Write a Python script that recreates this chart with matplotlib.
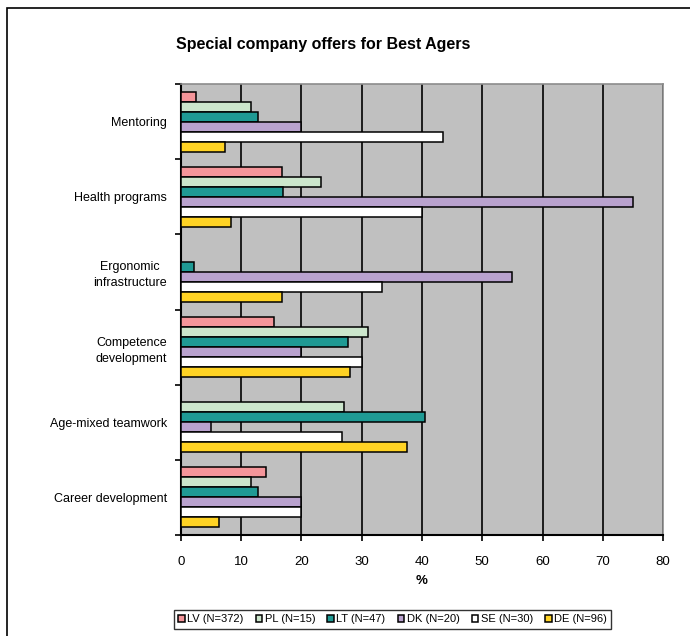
import matplotlib
matplotlib.use("Agg")
import matplotlib.pyplot as plt
from matplotlib.patches import Rectangle

plt.rcParams['font.family'] = ['Liberation Sans', 'DejaVu Sans']

# Données
categories = ['Mentoring', 'Health programs', 'Ergonomic\ninfrastructure',
              'Competence\ndevelopment', 'Age-mixed teamwork', 'Career development']
series = ['LV (N=372)', 'PL (N=15)', 'LT (N=47)', 'DK (N=20)', 'SE (N=30)', 'DE (N=96)']
LV = [2.5, 16.8, 0, 15.4, 0, 14.1]
PL = [11.7, 23.3, 0, 31.0, 27.0, 11.7]
LT = [12.8, 17.0, 2.1, 27.7, 40.5, 12.8]
DK = [20.0, 75.0, 55.0, 20.0, 5.0, 20.0]
SE = [43.5, 40.0, 33.3, 30.0, 26.7, 20.0]
DE = [7.3, 8.3, 16.7, 28.1, 37.5, 6.3]
couleurs = ['#F4959A', '#CCE6CC', '#1F9A94', '#B9A2CE', '#FFFFFF', '#FFD324']
xticks = [0, 10, 20, 30, 40, 50, 60, 70, 80]

valeurs = [LV, PL, LT, DK, SE, DE]

fig = plt.figure(figsize=(6.9, 6.36), dpi=100)
ax = fig.add_axes([0.2623, 0.1588, 0.6986, 0.7091])
ax.set_facecolor('#C0C0C0')

# Cadre extérieur (dépasse à droite et en bas)
fig.patches.append(Rectangle((7 / 690, -0.05), 1.0, (636 - 8) / 636 + 0.05,
                             transform=fig.transFigure, fill=False,
                             edgecolor='black', linewidth=1.2))

h = 0.8 / len(series)
for j, (nom, vals, c) in enumerate(zip(series, valeurs, couleurs)):
    pos = [i - 0.4 + h * (j + 0.5) for i in range(len(categories))]
    ax.barh(pos, vals, height=h, color=c, edgecolor='black', linewidth=1.1,
            label=nom, zorder=3)

ax.set_xlim(0, 80)
ax.set_ylim(len(categories) - 0.5, -0.5)
ax.set_xticks(xticks)
ax.set_xticklabels([str(t) for t in xticks], fontsize=9.5)
ax.xaxis.grid(True, color='black', linewidth=1.2, zorder=1)
ax.set_axisbelow(True)

# Ticks de l'axe des catégories aux limites des groupes
ax.set_yticks([i + 0.5 for i in range(-1, len(categories))])
ax.set_yticklabels([])
ax.set_yticks(range(len(categories)), minor=True)
ax.set_yticklabels(categories, minor=True, fontsize=9, ha='right')
ax.tick_params(axis='y', which='minor', length=0, pad=10)
ax.tick_params(axis='y', which='major', length=4, width=1.2, direction='out')
ax.tick_params(axis='x', length=4, width=1.2, direction='out', pad=11)
for lbl in ax.get_yticklabels(minor=True):
    lbl.set_multialignment('center')
    lbl.set_linespacing(1.45)

ax.spines['left'].set_linewidth(1.5)
ax.spines['bottom'].set_linewidth(1.5)
ax.spines['top'].set_color('#8C8C8C')
ax.spines['right'].set_color('#8C8C8C')
ax.spines['top'].set_linewidth(1.2)
ax.spines['right'].set_linewidth(1.2)

ax.set_xlabel('%', fontsize=9.5, fontweight='bold', labelpad=5)
fig.text(323 / 690, (636 - 45) / 636, 'Special company offers for Best Agers',
         ha='center', va='center', fontsize=11.5, fontweight='bold')

leg = fig.legend(loc='center', bbox_to_anchor=((172 + 613) / 2 / 690, (636 - 619.5) / 636),
                 ncol=6, fontsize=8.0, frameon=True, fancybox=False,
                 handlelength=0.6, handleheight=0.6, handletextpad=0.2,
                 columnspacing=1.1, borderpad=0.4, edgecolor='black')
leg.get_frame().set_linewidth(1.0)

fig.savefig('out.png', dpi=100)
